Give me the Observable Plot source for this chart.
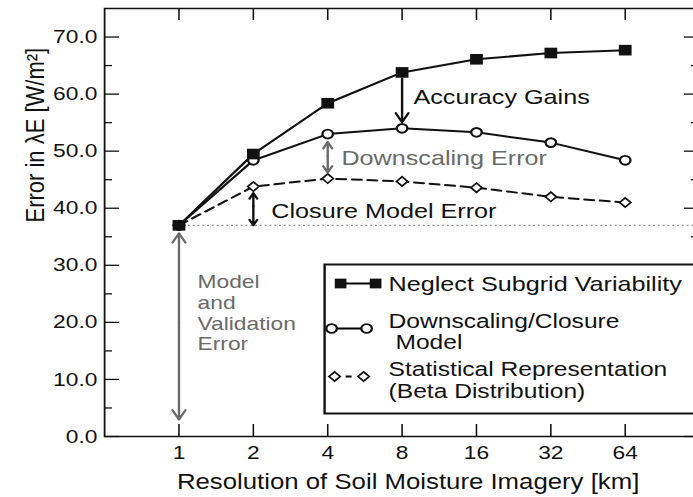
<!DOCTYPE html>
<html><head><meta charset="utf-8">
<script src="https://cdn.jsdelivr.net/npm/d3@7"></script>
<script src="https://cdn.jsdelivr.net/npm/@observablehq/plot@0.6"></script>
<style>
html,body{margin:0;padding:0;background:#fff;overflow:hidden;}
#wrap{width:693px;height:497px;overflow:hidden;position:relative;background:#fff;}
#inner{transform-origin:0 0;}
</style></head><body>
<div id="wrap"><div id="inner"></div></div>
<script>
// ---- data ----
const resolutions = [1, 2, 4, 8, 16, 32, 64];
const seriesNames = ["Neglect Subgrid Variability", "Downscaling/Closure\n\u00a0Model", "Statistical Representation\n(Beta Distribution)"];
const neglect     = [37.0, 49.5, 58.4, 63.8, 66.1, 67.2, 67.7];
const downscaling = [37.0, 48.4, 53.0, 54.0, 53.3, 51.5, 48.4];
const statistical = [37.0, 43.8, 45.2, 44.7, 43.6, 42.0, 41.0];
const validationErrorBottom = 3.0;
const yTicks = [0, 10, 20, 30, 40, 50, 60, 70];
const yMinorTicks = [5, 15, 25, 35, 45, 55, 65];
const xDomain = [0.5, 128];
const yDomain = [0, 75];
const annotationLabels = ["Accuracy Gains", "Downscaling Error", "Closure Model Error", "Model\nand\nValidation\nError"];
const xLabel = "Resolution of Soil Moisture Imagery [km]";
const yLabel = "Error in \u03bbE [W/m\u00b2]";

// ---- layout ----
const W = 578, H = 497, S = 693 / W;
const mL = 104 / S, mR = W - 699 / S, mT = 8, mB = 61;
const frameW = W - mL - mR, frameH = H - mT - mB;
const black = "#111", gray = "#6a6a6a";

const rows = vals => resolutions.map((x, i) => ({x, y: vals[i]}));
const ann = [
  {x: resolutions[3], top: neglect[3], bottom: downscaling[3]},
  {x: resolutions[2], top: downscaling[2], bottom: statistical[2]},
  {x: resolutions[1], top: statistical[1], bottom: neglect[0]},
  {x: resolutions[0], top: neglect[0], bottom: validationErrorBottom}
].map((d, i) => ({...d, mid: (d.top + d.bottom) / 2, label: annotationLabels[i]}));

const at = (xd, yd) => ({frameAnchor: "top-left", lineAnchor: "middle", dx: xd / S - mL, dy: yd - mT});
const bar = (x1d, x2d, yd, h) => Plot.frame({fill: "#000", stroke: "none",
  insetLeft: x1d / S - mL, insetRight: mL + frameW - x2d / S,
  insetTop: yd - h / 2 - mT, insetBottom: mT + frameH - (yd + h / 2)});

const dbl = (d, color, insTop, insBottom) => [
  Plot.arrow([d], {x: "x", y1: "mid", y2: "top", insetEnd: insTop, stroke: color, strokeWidth: 2, headLength: 8}),
  Plot.arrow([d], {x: "x", y1: "mid", y2: "bottom", insetEnd: insBottom, stroke: color, strokeWidth: 2, headLength: 8})
];

const chart = Plot.plot({
  width: W, height: H,
  marginLeft: mL, marginRight: mR, marginTop: mT, marginBottom: mB,
  style: {fontFamily: "'Liberation Sans', Arial, sans-serif", fontSize: "19px", color: black, background: "white"},
  x: {type: "log", base: 2, domain: xDomain},
  y: {domain: yDomain},
  marks: [
    Plot.ruleY([neglect[0]], {x1: resolutions[0], x2: xDomain[1], stroke: "#8a8a8a", strokeWidth: 1.2, strokeDasharray: "1.5,2.5"}),
    Plot.frame({stroke: black, strokeWidth: 1.5}),
    // inward ticks
    Plot.tickY(yTicks, {y: d => d, stroke: black, strokeWidth: 1.3, insetRight: frameW - 12.5}),
    Plot.tickY(yMinorTicks, {y: d => d, stroke: black, strokeWidth: 1.3, insetRight: frameW - 6.7}),
    Plot.tickY(yTicks, {y: d => d, stroke: black, strokeWidth: 1.3, insetLeft: frameW - 12.5}),
    Plot.tickY(yMinorTicks, {y: d => d, stroke: black, strokeWidth: 1.3, insetLeft: frameW - 6.7}),
    Plot.tickX(resolutions, {x: d => d, stroke: black, strokeWidth: 1.3, insetBottom: frameH - 12}),
    Plot.tickX(resolutions, {x: d => d, stroke: black, strokeWidth: 1.3, insetTop: frameH - 12}),
    Plot.axisX(resolutions, {tickSize: 0, tickPadding: 9, tickFormat: d => String(d), fontSize: 19, label: null}),
    Plot.axisY(yTicks, {tickSize: 0, tickPadding: 6, tickFormat: d3.format(".1f"), fontSize: 19, label: null}),
    Plot.text([xLabel], {text: d => d, frameAnchor: "bottom", lineAnchor: "middle", dy: 46, dx: 5, fontSize: 21.5}),
    Plot.text([yLabel], {text: d => d, frameAnchor: "left", rotate: -90, dx: 29 - mL, fontSize: 22}),
    // series
    Plot.line(rows(statistical), {x: "x", y: "y", stroke: black, strokeWidth: 2, strokeDasharray: "8,5"}),
    Plot.line(rows(downscaling), {x: "x", y: "y", stroke: black, strokeWidth: 2}),
    Plot.line(rows(neglect), {x: "x", y: "y", stroke: black, strokeWidth: 2}),
    Plot.dot(rows(statistical), {x: "x", y: "y", symbol: "diamond2", r: 4.2, fill: "white", stroke: black, strokeWidth: 1.6}),
    Plot.dot(rows(downscaling), {x: "x", y: "y", symbol: "circle", r: 4.4, fill: "white", stroke: black, strokeWidth: 1.9}),
    Plot.dot(rows(neglect), {x: "x", y: "y", symbol: "square", r: 6, fill: black}),
    // annotations
    Plot.arrow([ann[0]], {x: "x", y1: "top", y2: "bottom", insetStart: 6, insetEnd: 6, stroke: black, strokeWidth: 2, headLength: 8}),
    ...dbl(ann[1], gray, 8, 6),
    ...dbl(ann[2], black, 6.5, 0),
    ...dbl(ann[3], gray, 8, 0),
    Plot.text([ann[0]], {x: "x", y: "mid", text: "label", textAnchor: "start", dx: 9.5, dy: -3, fontSize: 21, fill: black}),
    Plot.text([ann[1]], {x: "x", y: "mid", text: "label", textAnchor: "start", dx: 11.4, dy: 1.5, fontSize: 21, fill: gray}),
    Plot.text([ann[2]], {x: "x", y: "mid", text: "label", textAnchor: "start", dx: 15, dy: 5.5, fontSize: 21, fill: black}),
    Plot.text([ann[3]], {x: "x", y: "mid", text: "label", textAnchor: "start", dx: 15.5, dy: -10, fontSize: 19, lineHeight: 1.1, fill: gray}),
    // legend
    Plot.frame({fill: "white", stroke: black, strokeWidth: 2, insetLeft: 324 / S - mL, insetTop: 264 - mT, insetBottom: mT + frameH - 413, insetRight: -10}),
    bar(340, 375, 283, 2),
    Plot.dot([0], {...at(340, 283), symbol: "square", r: 5.5, fill: black}),
    Plot.dot([0], {...at(375, 283), symbol: "square", r: 5.5, fill: black}),
    bar(331, 366, 328, 2),
    Plot.dot([0], {...at(331, 328), symbol: "circle", r: 4.4, fill: "white", stroke: black, strokeWidth: 1.9}),
    Plot.dot([0], {...at(366, 328), symbol: "circle", r: 4.4, fill: "white", stroke: black, strokeWidth: 1.9}),
    bar(345, 351, 376, 2),
    Plot.dot([0], {...at(334, 376), symbol: "diamond2", r: 4.2, fill: "white", stroke: black, strokeWidth: 1.6}),
    Plot.dot([0], {...at(363, 376), symbol: "diamond2", r: 4.2, fill: "white", stroke: black, strokeWidth: 1.6}),
    Plot.text([seriesNames[0]], {...at(388, 283.5), text: d => d, textAnchor: "start", fontSize: 21, fill: black}),
    Plot.text([seriesNames[1]], {...at(388, 331.5), text: d => d, textAnchor: "start", fontSize: 20.5, lineHeight: 1.03, fill: black}),
    Plot.text([seriesNames[2]], {...at(388, 379.5), text: d => d, textAnchor: "start", fontSize: 20.5, lineHeight: 1.06, fill: black})
  ]
});
chart.style.transform = `scaleX(${S})`;
chart.style.transformOrigin = "0 0";
chart.style.maxWidth = "none";
document.getElementById("inner").appendChild(chart);
</script>
</body></html>
